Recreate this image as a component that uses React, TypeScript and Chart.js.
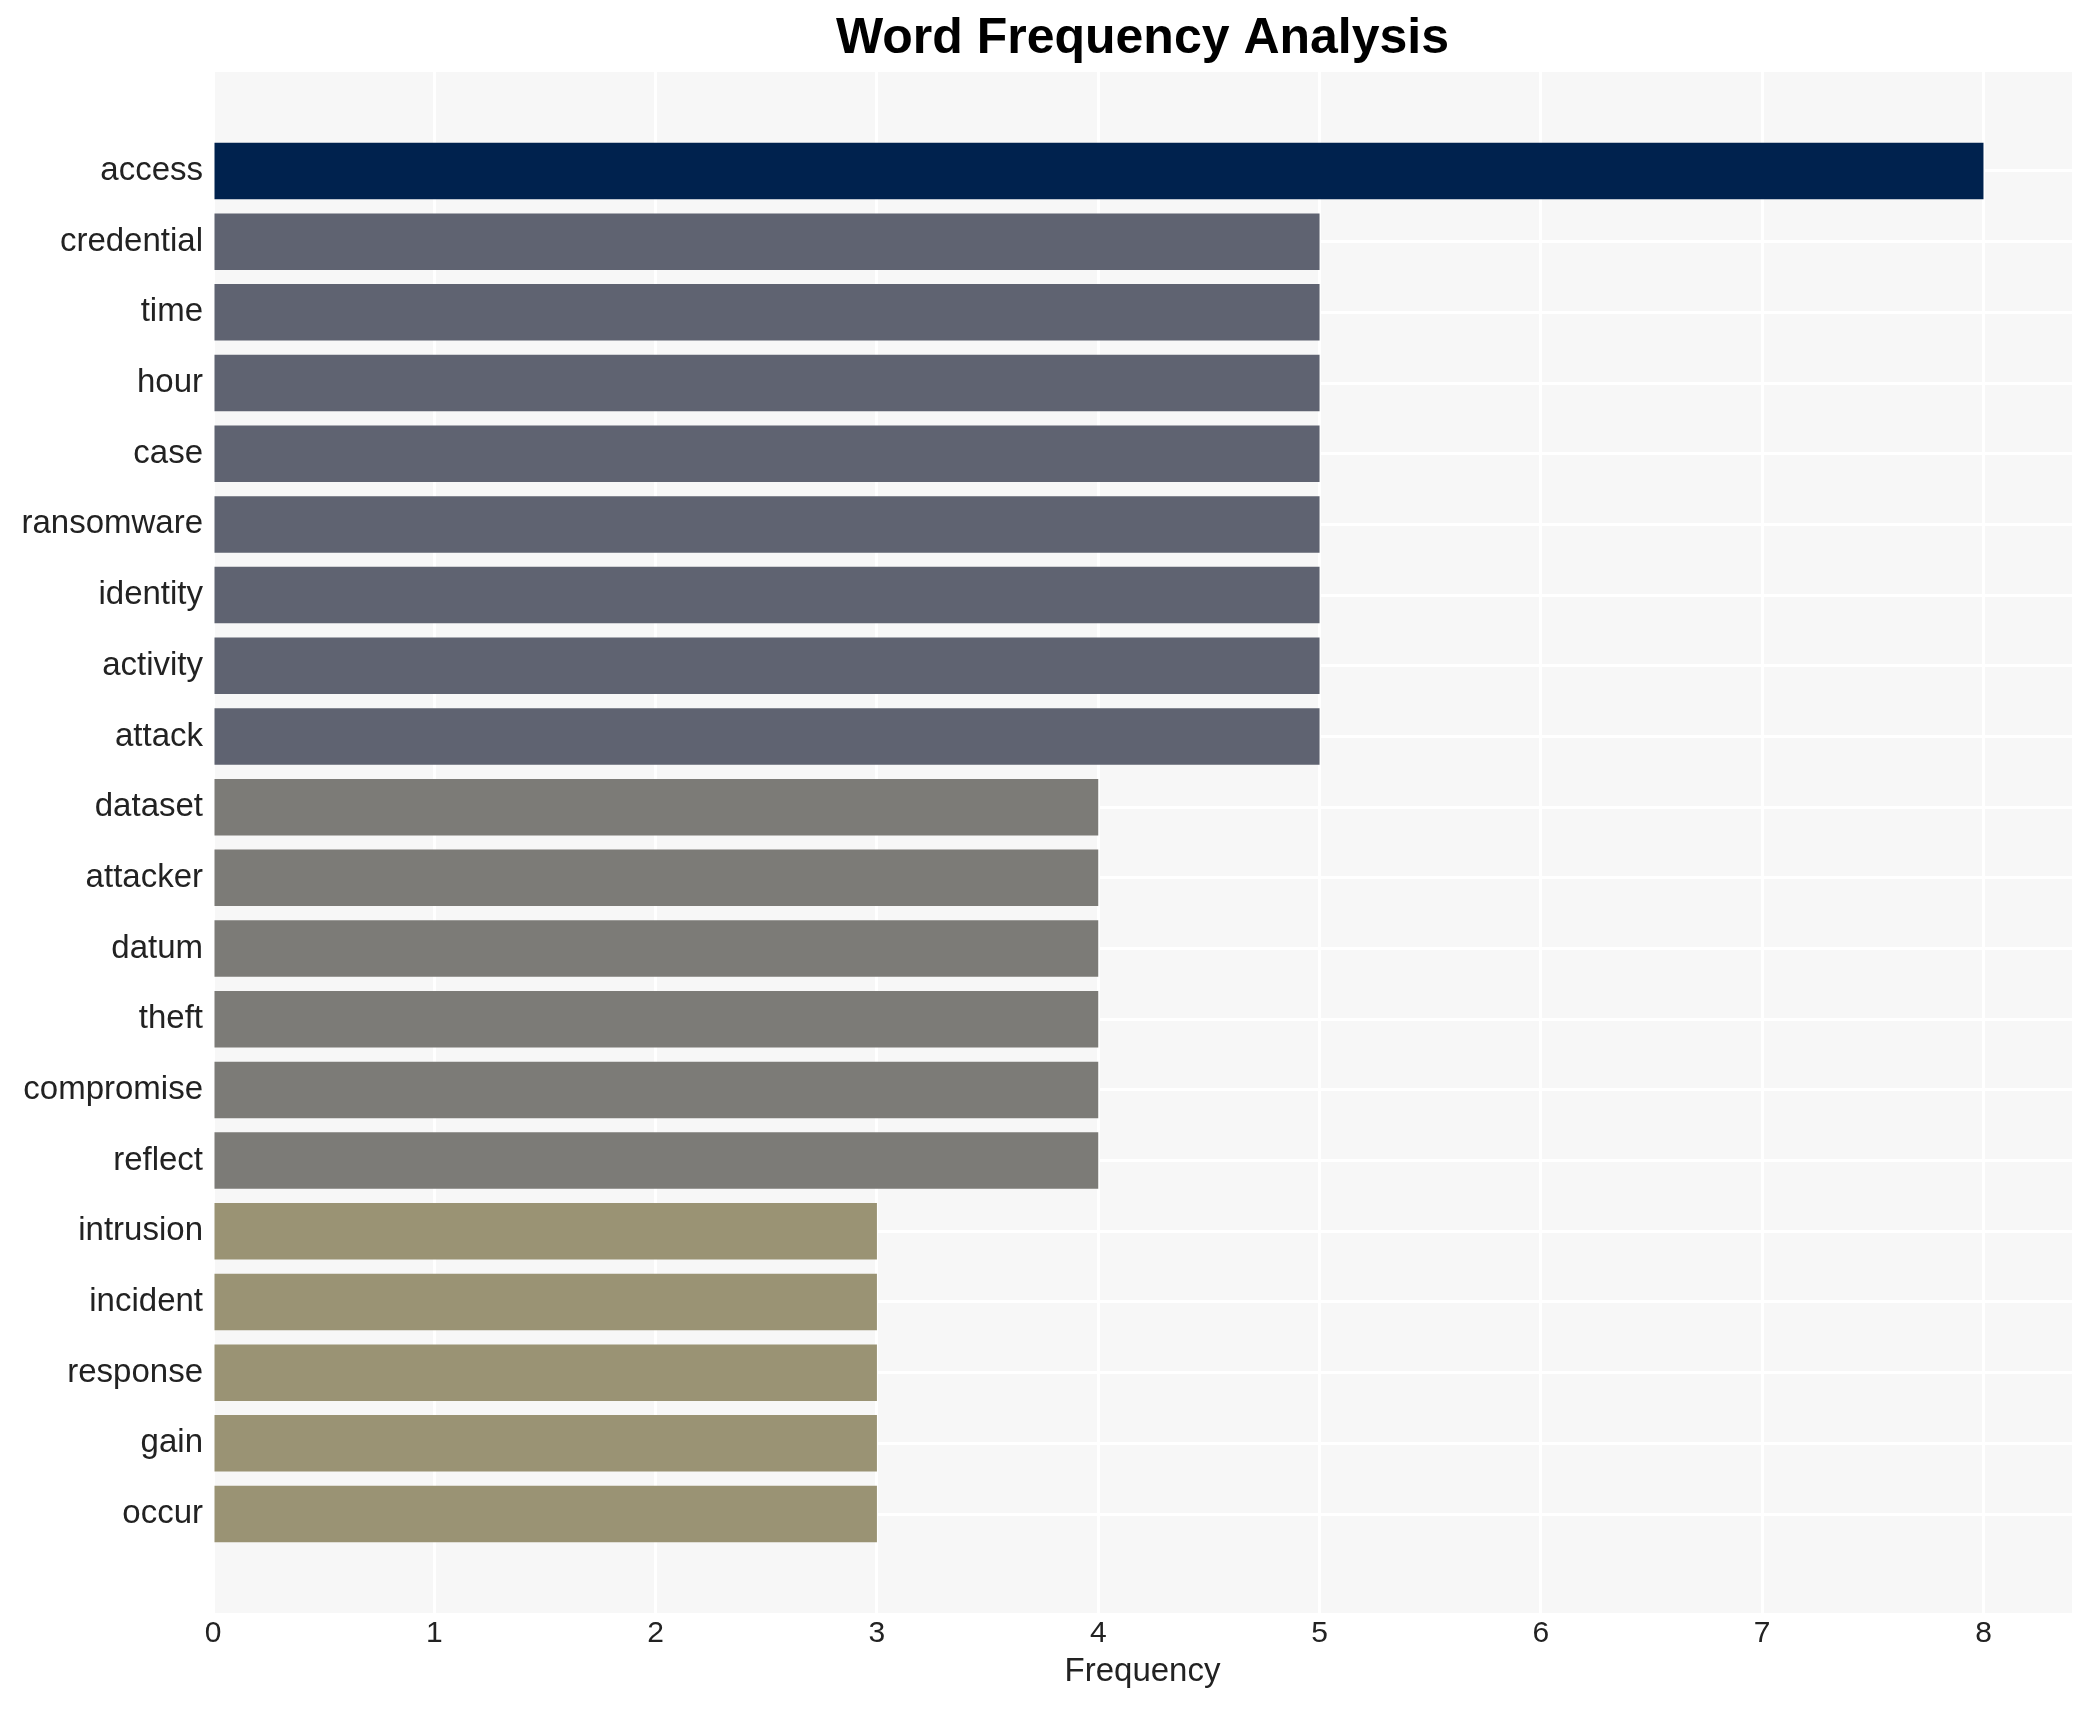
import { useEffect, useRef } from "react";
import { Chart, registerables } from "chart.js";

Chart.register(...registerables);

const words = [
  "access",
  "credential",
  "time",
  "hour",
  "case",
  "ransomware",
  "identity",
  "activity",
  "attack",
  "dataset",
  "attacker",
  "datum",
  "theft",
  "compromise",
  "reflect",
  "intrusion",
  "incident",
  "response",
  "gain",
  "occur",
];
const counts = [8, 5, 5, 5, 5, 5, 5, 5, 5, 4, 4, 4, 4, 4, 4, 3, 3, 3, 3, 3];
const xTicks = [0, 1, 2, 3, 4, 5, 6, 7, 8];

// fill colour by frequency (cividis-like)
const countColors: Record<number, string> = {
  8: "#00224E",
  5: "#5F6371",
  4: "#7C7B77",
  3: "#9A9374",
};

const FONT = "'Liberation Sans', Arial, Helvetica, sans-serif";

const panelPlugin = {
  id: "panel",
  beforeDraw(chart: any) {
    const { ctx, chartArea } = chart;
    ctx.save();
    ctx.fillStyle = "#F7F7F7";
    ctx.fillRect(
      chartArea.left,
      chartArea.top,
      chartArea.right - chartArea.left,
      chartArea.bottom - chartArea.top
    );
    ctx.restore();
  },
  afterDraw(chart: any) {
    const { ctx, chartArea } = chart;
    ctx.save();
    ctx.fillStyle = "#000";
    ctx.font = `bold 50px ${FONT}`;
    ctx.textAlign = "center";
    ctx.textBaseline = "middle";
    ctx.fillText("Word Frequency Analysis", (chartArea.left + chartArea.right) / 2, 39);
    ctx.restore();
  },
};

export default function App() {
  const canvasRef = useRef<HTMLCanvasElement | null>(null);

  useEffect(() => {
    if (!canvasRef.current) return;
    const chart = new Chart(canvasRef.current, {
      type: "bar",
      data: {
        datasets: [
          {
            data: counts.map((c, i) => ({ x: c, y: i })),
            backgroundColor: counts.map((c) => countColors[c]),
            borderWidth: 0,
            barPercentage: 0.8,
            categoryPercentage: 1,
          },
        ],
      },
      options: {
        indexAxis: "y",
        animation: false,
        responsive: false,
        devicePixelRatio: 1,
        layout: { padding: { top: 72, right: 21, left: 0, bottom: 0 } },
        plugins: {
          legend: { display: false },
          tooltip: { enabled: false },
        },
        scales: {
          x: {
            type: "linear",
            min: 0,
            max: 8.4,
            afterFit: (s: any) => {
              s.height = 97;
            },
            afterBuildTicks: (s: any) => {
              s.ticks = xTicks.map((v) => ({ value: v }));
            },
            ticks: {
              stepSize: 1,
              includeBounds: false,
              padding: 3,
              color: "#222",
              font: { family: FONT, size: 30 },
            },
            grid: { color: "#FFFFFF", lineWidth: 3, drawTicks: false, offset: false },
            border: { display: false },
            title: {
              display: true,
              text: "Frequency",
              color: "#222",
              font: { family: FONT, size: 33 },
              padding: { top: 0, bottom: 18 },
            },
          },
          y: {
            type: "linear",
            reverse: true,
            offset: false,
            min: -1.4,
            max: words.length - 1 + 1.4,
            afterFit: (s: any) => {
              s.width = 213;
            },
            afterBuildTicks: (s: any) => {
              s.ticks = words.map((_, i) => ({ value: i }));
            },
            ticks: {
              stepSize: 1,
              includeBounds: false,
              padding: 10,
              color: "#222",
              font: { family: FONT, size: 33 },
              callback: (v: any) => words[v as number] ?? "",
            },
            grid: { color: "#FFFFFF", lineWidth: 3, drawTicks: false, offset: false },
            border: { display: false },
          },
        },
      },
      plugins: [panelPlugin],
    } as any);
    return () => chart.destroy();
  }, []);

  return (
    <div style={{ position: "absolute", left: 0, top: 0, width: 2093, height: 1710, background: "#fff" }}>
      <canvas ref={canvasRef} width={2093} height={1710} />
    </div>
  );
}
